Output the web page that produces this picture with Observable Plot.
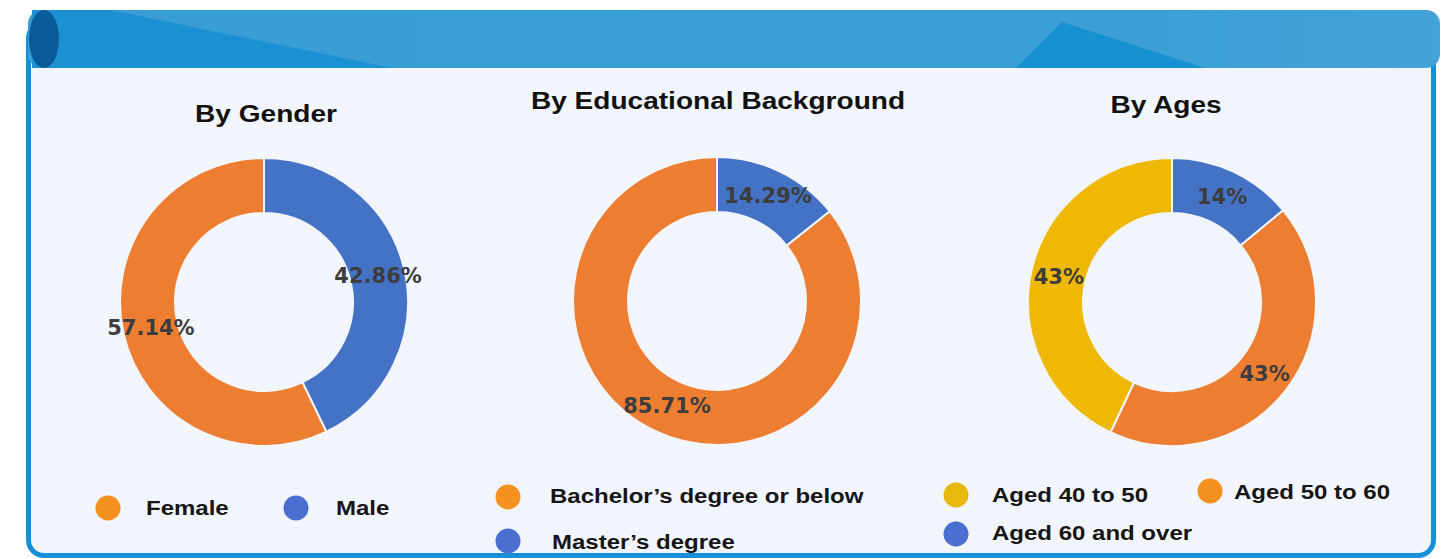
<!DOCTYPE html>
<html>
<head>
<meta charset="utf-8">
<script src="https://cdn.jsdelivr.net/npm/d3@7"></script>
<script src="https://cdn.jsdelivr.net/npm/@observablehq/plot@0.6"></script>
<style>
  html, body { margin: 0; padding: 0; background: #ffffff; }
  #root { position: relative; width: 1448px; height: 559px; overflow: hidden; background: #ffffff; font-family: "Liberation Sans", Arial, sans-serif; }
  .panel { position: absolute; left: 26px; top: 20px; width: 1410px; height: 538px; box-sizing: border-box;
           border: 5px solid #1590d8; border-radius: 18px; background: #f2f5fc; }
  .band { position: absolute; left: 0; top: 0; }
  .title { position: absolute; font-weight: bold; font-size: 23px; color: #111; white-space: nowrap;
           transform: translate(-50%, -50%) scaleX(1.22); line-height: 1; }
  .donut { position: absolute; }
  .leg { position: absolute; display: flex; align-items: center; white-space: nowrap; }
  .leg .dot { position: absolute; width: 25px; height: 25px; border-radius: 50%; transform: translate(-50%, -50%); }
  .leg .txt { position: absolute; font-weight: bold; font-size: 20px; color: #151515; line-height: 1;
              transform-origin: left center; transform: translateY(-50%) scaleX(1.2); }
</style>
</head>
<body>
<div id="root">
  <div class="panel"></div>
  <svg class="band" width="1448" height="80">
    <defs>
      <linearGradient id="bandGrad" x1="0" x2="1" y1="0" y2="0">
        <stop offset="0" stop-color="#379dd4"></stop>
        <stop offset="0.8" stop-color="#3b9fd5"></stop>
        <stop offset="1" stop-color="#44a3d8"></stop>
      </linearGradient>
    </defs>
    <rect x="28" y="10" width="1412" height="58" rx="14" fill="url(#bandGrad)"></rect>
    <polygon points="32,10 110,10 392,68 32,68" fill="#1b90d2"></polygon>
    <polygon points="1062,22 1205,68 1016,68" fill="#1690d1"></polygon>
    <ellipse cx="44" cy="39" rx="15" ry="29" fill="#0a5a98"></ellipse>
  </svg>
</div>
<script>
// ---------- data ----------
const genderCategories = ["Female", "Male"];
const genderValues = [57.14, 42.86];
const genderLabels = ["57.14%", "42.86%"];

const eduCategories = ["Bachelor\u2019s degree or below", "Master\u2019s degree"];
const eduValues = [85.71, 14.29];
const eduLabels = ["85.71%", "14.29%"];

const ageCategories = ["Aged 40 to 50", "Aged 50 to 60", "Aged 60 and over"];
const ageValues = [43, 43, 14];
const ageLabels = ["43%", "43%", "14%"];

const titles = ["By Gender", "By Educational Background", "By Ages"];

// ---------- styles ----------
const sliceColors = {orange: "#ed7d31", blue: "#4472c4", yellow: "#eeb805"};
const legendColors = {orange: "#f5921f", blue: "#4a6fd1", yellow: "#e6b90c"};
const genderColorKeys = ["orange", "blue"];
const eduColorKeys = ["orange", "blue"];
const ageColorKeys = ["yellow", "orange", "blue"];

const OUTER = 144, INNER = 89, HALF = 160;
const root = document.getElementById("root");

function donut(categories, values, labels, colorKeys, cx, cy) {
  const data = categories.map((c, i) => ({category: c, value: values[i], label: labels[i], color: sliceColors[colorKeys[i]]}));
  // counter-clockwise from 12 o'clock so the last category starts at the top going clockwise
  const pie = d3.pie().sort(null).value(d => d.value).startAngle(2 * Math.PI).endAngle(0);
  const arcs = pie(data);
  const mid = (INNER + OUTER) / 2;
  const labelData = arcs.map(a => {
    const ang = (a.startAngle + a.endAngle) / 2;
    return {label: a.data.label, x: mid * Math.sin(ang), y: mid * Math.cos(ang)};
  });
  const ringMark = (index, scales) => {
    const x0 = scales.x(0), y0 = scales.y(0);
    const k = Math.abs(scales.x(1) - scales.x(0));
    const arcGen = d3.arc().innerRadius(INNER * k).outerRadius(OUTER * k);
    const g = d3.create("svg:g").attr("transform", `translate(${x0},${y0})`);
    g.selectAll("path").data(arcs).join("path")
      .attr("d", arcGen)
      .attr("fill", d => d.data.color)
      .attr("stroke", "#f2f5fc")
      .attr("stroke-width", 2);
    return g.node();
  };
  const chart = Plot.plot({
    width: 2 * HALF, height: 2 * HALF,
    margin: 0,
    style: {background: "transparent", overflow: "visible"},
    x: {domain: [-HALF, HALF], axis: null},
    y: {domain: [-HALF, HALF], axis: null},
    marks: [
      ringMark,
      Plot.text(labelData, {x: "x", y: "y", text: "label", fontSize: 21, fontWeight: "bold",
        fontFamily: "DejaVu Sans", fill: "#3d3d3d"})
    ]
  });
  chart.classList.add("donut");
  chart.style.left = (cx - HALF) + "px";
  chart.style.top = (cy - HALF) + "px";
  root.appendChild(chart);
}

donut(genderCategories, genderValues, genderLabels, genderColorKeys, 264, 302);
donut(eduCategories, eduValues, eduLabels, eduColorKeys, 717, 301);
donut(ageCategories, ageValues, ageLabels, ageColorKeys, 1172, 302);

// titles
const titlePos = [[266, 114], [718, 101], [1166, 105]];
titles.forEach((t, i) => {
  const d = document.createElement("div");
  d.className = "title";
  d.textContent = t;
  d.style.left = titlePos[i][0] + "px";
  d.style.top = titlePos[i][1] + "px";
  root.appendChild(d);
});

// legends
function legendItem(text, color, dx, dy, tx, ty) {
  const w = document.createElement("div");
  w.className = "leg";
  w.style.left = "0px"; w.style.top = "0px";
  const dot = document.createElement("div");
  dot.className = "dot";
  dot.style.background = color;
  dot.style.left = dx + "px"; dot.style.top = dy + "px";
  const t = document.createElement("div");
  t.className = "txt";
  t.textContent = text;
  t.style.left = tx + "px"; t.style.top = ty + "px";
  w.appendChild(dot); w.appendChild(t);
  root.appendChild(w);
}
legendItem(genderCategories[0], legendColors[genderColorKeys[0]], 108, 508, 146, 508);
legendItem(genderCategories[1], legendColors[genderColorKeys[1]], 296, 508, 336, 508);
legendItem(eduCategories[0], legendColors[eduColorKeys[0]], 508, 497, 550, 496);
legendItem(eduCategories[1], legendColors[eduColorKeys[1]], 508, 541, 552, 542);
legendItem(ageCategories[0], legendColors[ageColorKeys[0]], 956, 495, 992, 495);
legendItem(ageCategories[1], legendColors[ageColorKeys[1]], 1210, 491, 1234, 492);
legendItem(ageCategories[2], legendColors[ageColorKeys[2]], 956, 534, 992, 533);
</script>
</body>
</html>
